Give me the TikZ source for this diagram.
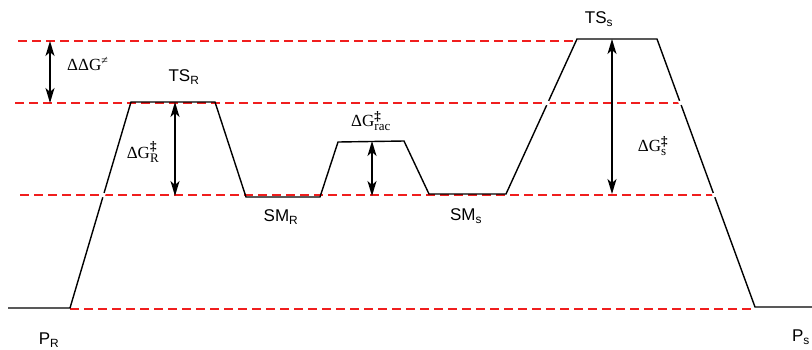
\documentclass[tikz,border=0pt]{standalone}
\usepackage{fontspec}
\setmainfont{Liberation Serif}
\setsansfont{Liberation Sans}
\usetikzlibrary{arrows.meta,calc}
\definecolor{lvlred}{RGB}{240,30,30}
\newcommand{\dg}[1]{$\mbox{ΔG}^{\mbox{\fontsize{13}{14}\selectfont\bfseries ‡}}_{\mbox{\fontsize{13}{14}\selectfont #1}}$}
\begin{document}
\begin{tikzpicture}[x=1pt,y=-1pt,
  lvl/.style={draw=lvlred, line width=1.5pt, dash pattern=on 9pt off 5pt},
  prof/.style={black, line width=1.4pt, line join=miter},
  gap/.style={white, line width=3.5pt},
  darr/.style={line width=1.4pt, {Stealth[length=15pt,width=9pt,inset=4pt]}-{Stealth[length=15pt,width=9pt,inset=4pt]}},
  slab/.style={font=\sffamily\fontsize{17}{20}\selectfont, inner sep=0pt},
  elab/.style={font=\fontsize{17}{20}\selectfont, inner sep=0pt}]
\useasboundingbox (0,0) rectangle (812,349);
% level lines
\draw[lvl] (18,41) -- (578,41);
\draw[lvl] (15,103) -- (680,103);
\draw[lvl] (20,195) -- (714,195);
\draw[lvl] (70,309) -- (755,309);
% profile points
\coordinate (p0) at (8,308);
\coordinate (p1) at (70,308);
\coordinate (tr1) at (131,102);
\coordinate (tr2) at (215,102);
\coordinate (sr1) at (246,197);
\coordinate (sr2) at (320,197);
\coordinate (rc1) at (338,142);
\coordinate (rc2) at (404,141);
\coordinate (ss1) at (429,194);
\coordinate (ss2) at (506,194);
\coordinate (ts1) at (577,39);
\coordinate (ts2) at (657,39);
\coordinate (ps1) at (755,307);
\coordinate (ps2) at (812,307);
\draw[prof] (p0) -- (p1) -- (tr1) -- (tr2) -- (sr1) -- (sr2) -- (rc1) -- (rc2) -- (ss1) -- (ss2) -- (ts1) -- (ts2) -- (ps1) -- (ps2);
% small breaks where slopes cross the level lines
\draw[gap] ($(p1)!0.538!(tr1)$) -- ($(p1)!0.558!(tr1)$);
\draw[gap] ($(ss2)!0.574!(ts1)$) -- ($(ss2)!0.600!(ts1)$);
\draw[gap] ($(ts2)!0.231!(ps1)$) -- ($(ts2)!0.246!(ps1)$);
\draw[gap] ($(ts2)!0.575!(ps1)$) -- ($(ts2)!0.590!(ps1)$);
% arrows
\coordinate (a1t) at (50,41);  \coordinate (a1b) at (50,103);
\coordinate (a2t) at (175,102); \coordinate (a2b) at (175,196);
\coordinate (a3t) at (372,141); \coordinate (a3b) at (372,196);
\coordinate (a4t) at (612,39);  \coordinate (a4b) at (612,194);
\draw[darr] (a1t) -- (a1b);
\draw[darr] (a2t) -- (a2b);
\draw[darr] (a3t) -- (a3b);
\draw[darr] (a4t) -- (a4b);
% energy labels
\node[elab, anchor=west] (ddg) at (67,64) {ΔΔG\textsuperscript{≠}};
\node[elab] (dgr) at (143,152) {\dg{R}};
\node[elab] (dgrac) at (371,121) {\dg{rac}};
\node[elab] (dgs) at (653,146) {\dg{s}};
% state labels
\node[slab] (tsr) at (184,77) {TS\textsubscript{R}};
\node[slab] (smr) at (281,217) {SM\textsubscript{R}};
\node[slab] (sms) at (466,216) {SM\textsubscript{s}};
\node[slab] (tss) at (599,19) {TS\textsubscript{s}};
\node[slab] (pr) at (49,340) {P\textsubscript{R}};
\node[slab] (pss) at (801,337) {P\textsubscript{s}};
\end{tikzpicture}
\end{document}
